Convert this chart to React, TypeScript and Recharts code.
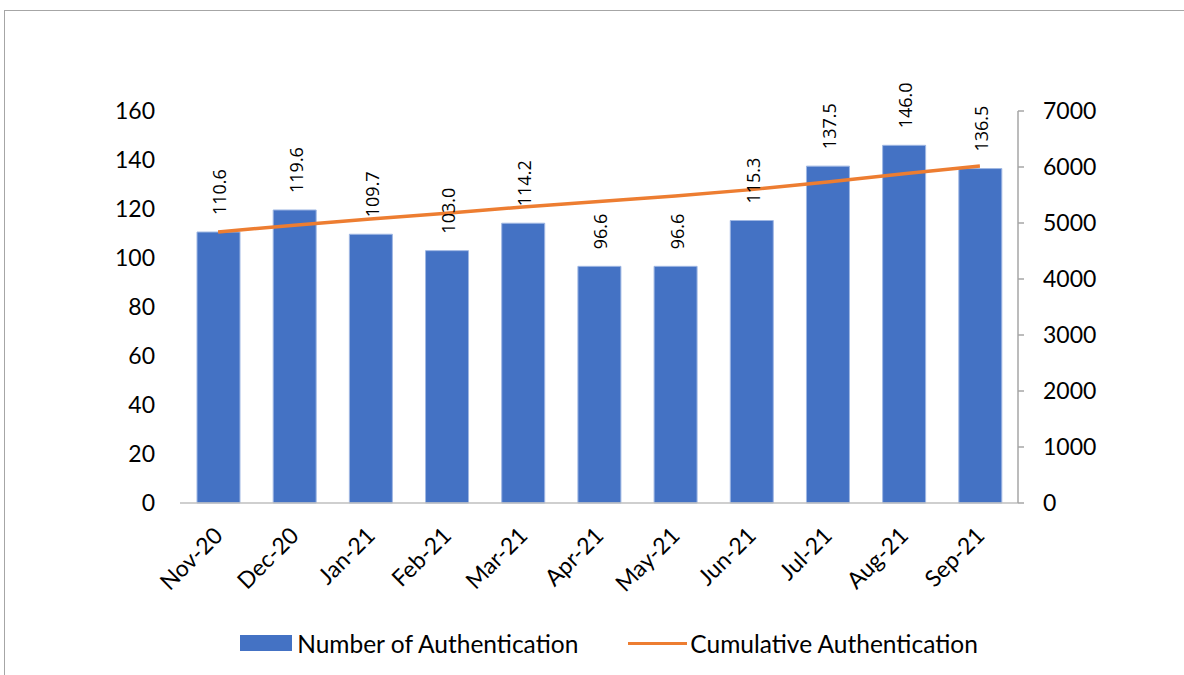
import React from 'react';
import { ComposedChart, Bar, Line, XAxis, YAxis, Legend, LabelList } from 'recharts';

const months = ['Nov-20', 'Dec-20', 'Jan-21', 'Feb-21', 'Mar-21', 'Apr-21', 'May-21', 'Jun-21', 'Jul-21', 'Aug-21', 'Sep-21'];
const numberOfAuthentication = [110.6, 119.6, 109.7, 103.0, 114.2, 96.6, 96.6, 115.3, 137.5, 146.0, 136.5];
const cumulativeAuthentication = [4840, 4960, 5070, 5173, 5287, 5384, 5480, 5596, 5733, 5879, 6016];
const leftTicks = [0, 20, 40, 60, 80, 100, 120, 140, 160];
const rightTicks = [0, 1000, 2000, 3000, 4000, 5000, 6000, 7000];

const data = months.map((m, i) => ({
  month: m,
  num: numberOfAuthentication[i],
  cum: cumulativeAuthentication[i],
}));

const FONT = 'Lato, "Open Sans", sans-serif';
const BLUE = '#4472C4';
const ORANGE = '#ED7D31';

const XTick = (props: any) => {
  const { x, y, payload } = props;
  return (
    <g transform={`translate(${x - 7},${y + 13})`}>
      <text transform="rotate(-45)" textAnchor="end" dominantBaseline="hanging" fontSize={23} fontFamily={FONT} fill="#000">
        {payload.value}
      </text>
    </g>
  );
};

const BarLabel = (props: any) => {
  const { x, y, width, value } = props;
  const cx = x + width / 2 + 1;
  const ty = y - 17;
  return (
    <text x={cx} y={ty} transform={`rotate(-90 ${cx} ${ty})`} textAnchor="start" dominantBaseline="central" fontSize={18} fontFamily='"Open Sans", sans-serif' fill="#000">
      {Number(value).toFixed(1)}
    </text>
  );
};

const LegendContent = () => (
  <div style={{ display: 'flex', justifyContent: 'center', alignItems: 'center', fontFamily: FONT, fontSize: 24.5, color: '#000', height: 30, paddingLeft: 34 }}>
    <div style={{ display: 'flex', alignItems: 'center', marginRight: 50 }}>
      <div style={{ width: 52, height: 16, background: BLUE, marginRight: 5 }} />
      <span>Number of Authentication</span>
    </div>
    <div style={{ display: 'flex', alignItems: 'center' }}>
      <div style={{ width: 59, height: 3, background: ORANGE, marginRight: 3 }} />
      <span>Cumulative Authentication</span>
    </div>
  </div>
);

export default function App() {
  return (
    <div style={{ position: 'absolute', left: 0, top: 0, width: 1184, height: 675, overflow: 'hidden', background: '#fff' }}>
      <div style={{ position: 'absolute', left: 4, top: 10, width: 1300, height: 800, border: '1px solid #a6a6a6' }} />
      <ComposedChart width={1184} height={675} data={data} margin={{ top: 111, right: 0, bottom: 17, left: 0 }} barSize={43}>
        <XAxis dataKey="month" height={125} tick={<XTick />} tickLine={false} axisLine={{ stroke: '#bfbfbf', strokeWidth: 1.5 }} interval={0} />
        <YAxis yAxisId="left" orientation="left" width={180} domain={[0, 160]} ticks={leftTicks} axisLine={false} tickLine={false} tickMargin={19} tick={{ fontSize: 23, fontFamily: FONT, fill: '#000' }} />
        <YAxis yAxisId="right" orientation="right" width={166} domain={[0, 7000]} ticks={rightTicks} axisLine={{ stroke: '#a6a6a6', strokeWidth: 1.5 }} tickLine={{ stroke: '#a6a6a6', strokeWidth: 1.5 }} tickSize={6} tickMargin={19} tick={{ fontSize: 23, fontFamily: FONT, fill: '#000', textAnchor: 'start' }} />
        <Legend verticalAlign="bottom" height={30} content={<LegendContent />} />
        <Bar yAxisId="left" dataKey="num" name="Number of Authentication" fill={BLUE} stroke="#9fb7e3" strokeWidth={1} isAnimationActive={false}>
          <LabelList dataKey="num" content={<BarLabel />} />
        </Bar>
        <Line yAxisId="right" dataKey="cum" name="Cumulative Authentication" stroke={ORANGE} strokeWidth={3.5} dot={false} isAnimationActive={false} />
      </ComposedChart>
    </div>
  );
}
